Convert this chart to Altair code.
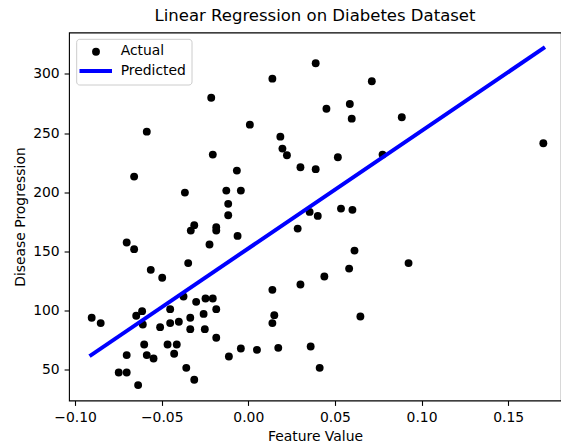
import altair as alt
import pandas as pd

# Test-set points (feature value, disease progression)
feature = [
    -0.0586, -0.0659, -0.0366, -0.0702, -0.0659, -0.0563, -0.0497, -0.0347, -0.0374, -0.0904,
    -0.0852, -0.0613, -0.0647, -0.0609, -0.0451, -0.0509, -0.0451, -0.0401, -0.0601, -0.0466,
    -0.0413, -0.0428, -0.0702, -0.0586, -0.0547, -0.0358, -0.0748, -0.0702, -0.0636, 0.0139,
    -0.0214, 0.0009, 0.0185, 0.0197, 0.0223, 0.0301, -0.0205, -0.0066, -0.0127, -0.0043,
    -0.0116, -0.0116, -0.0312, -0.0332, -0.0185, -0.0185, -0.0062, -0.0224, 0.0285, 0.0301,
    0.0139, 0.0150, 0.0139, -0.0301, -0.0247, -0.0205, -0.0185, -0.0258, -0.0335, -0.0335,
    -0.0251, -0.0185, -0.0043, 0.0050, 0.0173, -0.0112, 0.0360, -0.0312, 0.0389, 0.0713,
    0.0451, 0.0586, 0.0597, 0.0886, 0.0517, 0.0775, 0.0389, 0.0354, 0.0401, 0.0535,
    0.0601, 0.0613, 0.0582, 0.0925, 0.0439, 0.0647, 0.0412, 0.1703,
]
progression = [
    251.2, 213.2, 199.7, 157.5, 151.9, 134.4, 127.7, 140.1, 111.9, 93.9,
    89.4, 99.5, 95.6, 88.2, 101.2, 86.0, 89.4, 90.5, 71.3, 71.3,
    71.3, 63.5, 62.4, 62.4, 59.5, 51.6, 47.7, 47.7, 37.0, 296.0,
    279.9, 257.1, 247.0, 236.9, 231.3, 221.1, 231.8, 218.3, 201.4, 201.4,
    190.2, 180.6, 172.2, 167.6, 170.5, 167.6, 163.1, 155.8, 169.3, 122.0,
    117.5, 96.1, 89.4, 107.4, 110.2, 110.2, 101.2, 97.2, 93.9, 84.3,
    84.3, 77.0, 67.9, 66.8, 68.5, 61.2, 69.6, 41.5, 309.0, 293.8,
    270.6, 274.6, 262.2, 263.4, 229.6, 231.8, 219.5, 183.4, 180.0, 186.2,
    185.1, 150.7, 135.5, 140.1, 128.8, 95.0, 51.6, 241.4,
]

# Fitted regression line (end points)
line_x = [-0.0907, 0.1703]
line_y = [62.4, 321.7]

legend_labels = ["Actual", "Predicted"]
x_ticks = [-0.10, -0.05, 0.00, 0.05, 0.10, 0.15]
y_ticks = [50, 100, 150, 200, 250, 300]

pts = pd.DataFrame({"x": feature, "y": progression})
ln = pd.DataFrame({"x": line_x, "y": line_y})
one = pd.DataFrame({"k": [0]})

FONT = "DejaVu Sans"
DOT = 62

xscale = alt.Scale(domain=[-0.1035, 0.1805], nice=False, zero=False)
yscale = alt.Scale(domain=[24, 335], nice=False, zero=False)

xaxis = alt.Axis(
    title="Feature Value",
    values=x_ticks,
    labelExpr="replace(format(datum.value, '.2f'), '-', '\u2212')",
    grid=False,
    domain=False,
)
yaxis = alt.Axis(
    title="Disease Progression",
    values=y_ticks,
    format="d",
    grid=False,
    domain=False,
)

scatter = alt.Chart(pts).mark_circle(size=DOT, color="black", opacity=1).encode(
    x=alt.X("x:Q", scale=xscale, axis=xaxis),
    y=alt.Y("y:Q", scale=yscale, axis=yaxis),
)

line = alt.Chart(ln).mark_line(color="blue", strokeWidth=4, strokeCap="square").encode(
    x=alt.X("x:Q", scale=xscale),
    y=alt.Y("y:Q", scale=yscale),
)

# Legend (matplotlib-style box in the upper left)
leg_box = alt.Chart(one).mark_rect(
    fill="white", fillOpacity=0.8, stroke="#cccccc", strokeWidth=1, cornerRadius=3
).encode(x=alt.value(7.7), x2=alt.value(123), y=alt.value(6.8), y2=alt.value(52.5))
leg_dot = alt.Chart(one).mark_circle(size=DOT, color="black", opacity=1).encode(
    x=alt.value(27), y=alt.value(19.2)
)
leg_line = alt.Chart(one).mark_rule(color="blue", strokeWidth=4, strokeCap="square").encode(
    x=alt.value(12.5), x2=alt.value(41), y=alt.value(38.5)
)
leg_t1 = alt.Chart(one).mark_text(
    align="left", baseline="middle", font=FONT, fontSize=13.9, color="black"
).encode(x=alt.value(51.7), y=alt.value(18), text=alt.value(legend_labels[0]))
leg_t2 = alt.Chart(one).mark_text(
    align="left", baseline="middle", font=FONT, fontSize=13.9, color="black"
).encode(x=alt.value(51.7), y=alt.value(38.5), text=alt.value(legend_labels[1]))

chart = (
    alt.layer(scatter, line, leg_box, leg_dot, leg_line, leg_t1, leg_t2)
    .properties(
        width=492,
        height=368,
        autosize=alt.AutoSizeParams(type="none"),
        padding={"left": 69, "top": 32.5, "right": 0, "bottom": 43.5},
        background="white",
        title=alt.Title(
            "Linear Regression on Diabetes Dataset",
            font=FONT,
            fontSize=16.5,
            fontWeight="normal",
            color="black",
            offset=8,
            anchor="middle",
        ),
    )
    .configure_view(stroke="black", strokeWidth=1.1)
    .configure_axis(
        labelFont=FONT,
        titleFont=FONT,
        labelFontSize=13.9,
        titleFontSize=13.9,
        titleFontWeight="normal",
        labelColor="black",
        titleColor="black",
        tickColor="black",
        tickSize=4.9,
        tickWidth=1.1,
        labelPadding=4.9,
        titlePadding=5.5,
    )
)

chart.save("out.html", embed_options={"renderer": "svg", "actions": False})
